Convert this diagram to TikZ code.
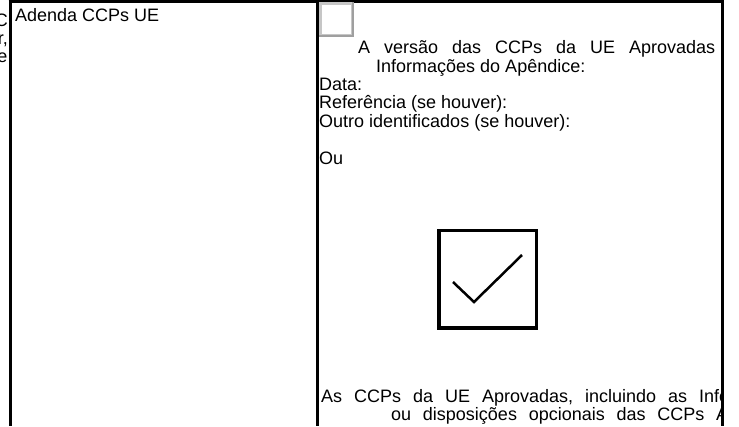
\documentclass[tikz,border=0pt]{standalone}
\usepackage{fontspec}
\setmainfont{Liberation Sans}
\usetikzlibrary{calc}
\tikzset{cell/.style = {anchor=base west, inner sep=0pt, font=\fontsize{18}{18.4}\selectfont}}
\tikzset{rule/.style = {line width=3pt}}
\tikzset{tickbox/.style = {draw, line width=3.5pt, minimum size=97.5pt, inner sep=0pt}}
\tikzset{blankbox/.style = {draw=gray!45, line width=2.5pt, minimum size=31.5pt, inner sep=0pt}}
\frenchspacing

\begin{document}
\begin{tikzpicture}[x=1pt,y=-1pt]
    \useasboundingbox (0,0) rectangle (739,426);

    % Table rules
    \coordinate (tl) at (10,1.5);
    \coordinate (tr) at (722,1.5);
    \draw[rule] (10,0) -- (10,426);
    \draw[rule] (317,0) -- (317,426);
    \draw[rule] (722,0) -- (722,426);
    \draw[rule] ([xshift=-1.5pt]tl) -- ([xshift=1.5pt]tr);

    % Left cell
    \node[cell] (adenda) at (15,21) {Adenda CCPs UE};
    \begin{scope}
        \clip (0,0) rectangle (8.5,426);
        \node[cell, anchor=base east] (prevc) at (8,26) {C};
        \node[cell, anchor=base east] (prevr) at (8,44) {r,};
        \node[cell, anchor=base east] (preve) at (7.5,62) {e};
    \end{scope}

    % Right cell
    \node[blankbox] (blank) at (336,19) {};
    \draw[gray!75, line width=2pt] ([xshift=-0.5pt]blank.north east) -- ([xshift=-0.5pt,yshift=0.5pt]blank.south east) -- ([yshift=0.5pt]blank.south west);
    \begin{scope}
        \clip (318.5,0) rectangle (720.5,426);
        \node[cell] (versao) at (358,53) {\makebox[357pt][s]{A versão das CCPs da UE Aprovadas}};
        \node[cell] (info) at (376,72) {Informações do Apêndice:};
        \node[cell] (data) at (319,90) {Data:};
        \node[cell] (ref) at (319,108.5) {Referência (se houver):};
        \node[cell] (outro) at (319,127) {Outro identificados (se houver):};
        \node[cell] (ou) at (319,164) {Ou};
        \node[cell] (ccpsa) at (321,402) {\makebox[477pt][s]{As CCPs da UE Aprovadas, incluindo as Informações}};
        \node[cell] (ccpsb) at (391,420.5) {\makebox[411pt][s]{ou disposições opcionais das CCPs Aprovadas}};
    \end{scope}

    % Ticked box
    \node[tickbox] (tick) at (487.5,279) {};
    \draw[line width=2.5pt] ($(tick.center)+(-34.5,3)$) -- ($(tick.center)+(-13.5,23)$) -- ($(tick.center)+(34.5,-24)$);
\end{tikzpicture}
\end{document}
